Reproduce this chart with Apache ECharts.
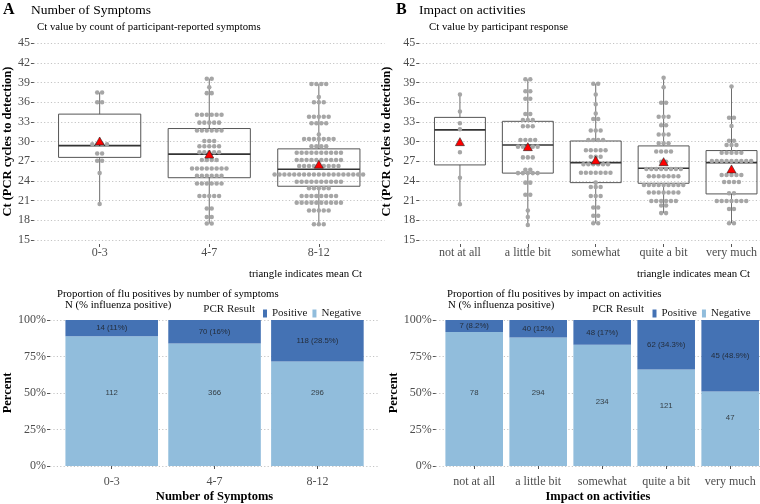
<!DOCTYPE html>
<html><head><meta charset="utf-8">
<script src="https://cdn.jsdelivr.net/npm/echarts@6/dist/echarts.min.js"></script>
<style>html,body{margin:0;padding:0;background:#fff}#c{width:760px;height:504px}</style>
</head><body><div id="c"></div>
<script>
// ---------- DATA ----------
var catsA = ['0-3', '4-7', '8-12'];
var catsB = ['not at all', 'a little bit', 'somewhat', 'quite a bit', 'very much'];
var yTicksCt = [15, 18, 21, 24, 27, 30, 33, 36, 39, 42, 45];

// box stats [min, q1, median, q3, max]
var boxA = [[20.5, 27.6, 29.4, 34.2, 37.5], [17.5, 24.5, 28.1, 32.0, 39.6], [17.4, 23.2, 25.8, 28.9, 38.8]];
var meanA = [30.1, 28.1, 26.55];
var boxB = [[20.45, 26.45, 31.8, 33.7, 37.2], [17.3, 25.2, 29.5, 33.1, 39.5], [17.56, 23.75, 26.8, 30.1, 38.84],
            [19.1, 23.65, 25.95, 29.35, 39.76], [17.56, 22.03, 26.8, 28.64, 38.4]];
var meanB = [30.0, 29.24, 27.2, 26.95, 25.84];

// dot bins [Ct, count]
var dots03 = [[37.5,2],[36.0,2],[29.6,4],[28.2,2],[27.1,2],[25.2,1],[20.5,1]];
var dots47 = [[39.6,2],[38.3,1],[37.4,2],[34.1,6],[32.9,5],[31.7,6],[30.1,3],[29.3,5],[28.4,5],[27.2,4],[25.9,8],[24.8,6],[23.6,6],[21.7,5],[19.8,2],[18.5,2],[17.5,2]];
var dots812 = [[38.8,4],[36.8,1],[36.0,3],[33.8,5],[32.8,4],[31.1,1],[30.4,7],[29.3,4],[28.3,10],[27.2,10],[26.3,9],[25.0,19],[23.9,10],[22.9,5],[21.7,8],[20.7,10],[19.5,5],[17.4,3]];
var dotsNot = [[37.2,1],[34.6,1],[32.8,1],[31.9,1],[28.4,1],[24.5,1],[20.45,1]];
var dotsLittle = [[39.5,2],[37.7,2],[36.55,2],[34.2,2],[33.3,3],[32.35,3],[30.26,4],[29.24,5],[27.6,3],[25.7,2],[25.2,5],[23.75,2],[21.9,2],[19.5,1],[18.5,1],[17.3,1]];
var dotsSome = [[38.84,2],[37.2,1],[35.7,1],[34.3,1],[33.46,2],[31.7,3],[30.26,4],[28.7,5],[27.7,3],[26.55,6],[25.27,7],[23.75,1],[23.1,3],[21.7,3],[19.94,2],[18.7,2],[17.56,2]];
var dotsQuite = [[39.76,1],[38.3,1],[35.95,2],[33.8,3],[32.5,2],[31.1,3],[29.76,3],[28.5,4],[26.95,2],[25.84,8],[24.73,7],[23.4,9],[22.23,7],[20.96,6],[20.25,2],[19.1,2]];
var dotsVery = [[38.4,1],[33.66,2],[32.4,1],[30.15,2],[29.5,3],[28.32,5],[27.06,9],[24.9,5],[23.86,4],[22.13,2],[20.96,7],[19.74,2],[17.56,2]];

// bottom: counts
var posA = [14, 70, 118];
var negA = [112, 366, 296];
var posLabelA = ['14 (11%)', '70 (16%)', '118 (28.5%)'];
var negLabelAtA = [50, 50, 50];
var posB = [7, 40, 48, 62, 45];
var negB = [78, 294, 234, 121, 47];
var posLabelB = ['7 (8.2%)', '40 (12%)', '48 (17%)', '62 (34.3%)', '45 (48.9%)'];
var negLabelAtB = [50, 50, 43.6, 41.3, 33];
var pctTicks = [0, 25, 50, 75, 100];

// ---------- STYLE ----------
var SERIF = "'Liberation Serif','DejaVu Serif',serif";
var SANS = "'Liberation Sans','DejaVu Sans',sans-serif";
var POS = '#4472b4', NEG = '#91bddc';
var DOT = '#a6a6a6';
var BINW = 0.75;

function idxs(n){ var a=[]; for (var i=1;i<=n;i++) a.push(i); return a; }

function boxRender(params, api){
  var x = api.value(0), mn = api.value(1), q1 = api.value(2), md = api.value(3), q3 = api.value(4), mx = api.value(5);
  var hw = 0.375;
  var pTL = api.coord([x - hw, q3]), pBR = api.coord([x + hw, q1]);
  var pMin = api.coord([x, mn]), pMax = api.coord([x, mx]), pMd = api.coord([x, md]);
  return {type:'group', children:[
    {type:'line', shape:{x1:pMax[0], y1:pMax[1], x2:pMax[0], y2:pTL[1]}, style:{stroke:'#6e6e6e', lineWidth:1}},
    {type:'line', shape:{x1:pMin[0], y1:pBR[1], x2:pMin[0], y2:pMin[1]}, style:{stroke:'#6e6e6e', lineWidth:1}},
    {type:'rect', shape:{x:pTL[0], y:pTL[1], width:pBR[0]-pTL[0], height:pBR[1]-pTL[1]}, style:{fill:'none', stroke:'#555', lineWidth:1}},
    {type:'line', shape:{x1:pTL[0], y1:pMd[1], x2:pBR[0], y2:pMd[1]}, style:{stroke:'#333', lineWidth:1.6}}
  ]};
}
function dotRender(params, api){
  var x = api.value(0), y = api.value(1), n = api.value(2);
  var c = api.coord([x, y]);
  var d = api.size([0, BINW])[1];
  var ch = [];
  for (var i = 0; i < n; i++) {
    ch.push({type:'circle', shape:{cx:c[0] + (i - (n - 1) / 2) * d, cy:c[1], r:d * 0.46}, style:{fill:DOT}});
  }
  return {type:'group', children:ch};
}
function barRender(params, api){
  var x = api.value(0), y0 = api.value(1), y1 = api.value(2);
  var hw = 0.45;
  var a = api.coord([x - hw, y1]), b = api.coord([x + hw, y0]);
  return {type:'rect', shape:{x:a[0], y:a[1], width:b[0]-a[0], height:b[1]-a[1]}, style:{fill:api.visual('color')}};
}

function boxData(stats){ return stats.map(function(s, i){ return [i + 1].concat(s); }); }
function dotData(groups){ var out=[]; groups.forEach(function(g, i){ g.forEach(function(b){ out.push([i + 1, b[0], b[1]]); }); }); return out; }
function meanData(m){ return m.map(function(v, i){ return [i + 1, v]; }); }

var labelStyle = {color:'#4d4d4d', fontFamily:SERIF, fontSize:12};
var gridLine = {show:true, lineStyle:{type:[1.2, 2.2], color:'#c4c4c4', width:1}};

function xAxisCat(gi, cats, xmax, offset, margin, name, nameGap){
  var vals = idxs(cats.length);
  var ax = {gridIndex:gi, type:'value', min:0.4, max:xmax, offset:offset,
    splitLine:{show:false}, axisLine:{show:false},
    axisTick:{show:true, length:3, customValues:vals, lineStyle:{color:'#555'}},
    axisLabel:Object.assign({customValues:vals, margin:margin, formatter:function(v){ return cats[Math.round(v) - 1]; }}, labelStyle)};
  if (name) { ax.name = name; ax.nameLocation = 'middle'; ax.nameGap = nameGap;
    ax.nameTextStyle = {fontFamily:SERIF, fontWeight:'bold', fontSize:12.5, color:'#000'}; }
  return ax;
}
function yAxisCt(gi, gap){
  return {gridIndex:gi, type:'value', min:yTicksCt[0], max:yTicksCt[yTicksCt.length-1], interval:3,
    axisLine:{show:false}, axisTick:{show:true, length:3, lineStyle:{color:'#555'}},
    axisLabel:Object.assign({margin:4}, labelStyle), splitLine:gridLine,
    name:'Ct (PCR cycles to detection)', nameLocation:'middle', nameGap:gap,
    nameTextStyle:{fontFamily:SERIF, fontWeight:'bold', fontSize:12.5, color:'#000'}};
}
function yAxisPct(gi, gap){
  return {gridIndex:gi, type:'value', min:pctTicks[0], max:pctTicks[pctTicks.length-1], interval:25,
    axisLine:{show:false}, axisTick:{show:true, length:3, lineStyle:{color:'#555'}},
    axisLabel:Object.assign({margin:4, formatter:'{value}%'}, labelStyle), splitLine:gridLine,
    name:'Percent', nameLocation:'middle', nameGap:gap,
    nameTextStyle:{fontFamily:SERIF, fontWeight:'bold', fontSize:12.5, color:'#000'}};
}

function barSeries(gi, pos, neg, posLab, negAt){
  var negPct = neg.map(function(n, i){ return n / (n + pos[i]) * 100; });
  var lab = {show:true, position:'inside', fontFamily:SANS, fontSize:7.8, color:'#1a1a1a'};
  return [
    {type:'custom', name:'Negative', xAxisIndex:gi, yAxisIndex:gi, renderItem:barRender, silent:true,
      itemStyle:{color:NEG}, data:negPct.map(function(p, i){ return [i + 1, 0, p]; }), z:2},
    {type:'custom', name:'Positive', xAxisIndex:gi, yAxisIndex:gi, renderItem:barRender, silent:true,
      itemStyle:{color:POS}, data:negPct.map(function(p, i){ return [i + 1, p, 100]; }), z:2},
    {type:'scatter', name:'posLab' + gi, xAxisIndex:gi, yAxisIndex:gi, symbolSize:0, silent:true,
      data:negPct.map(function(p, i){ return [i + 1, (p + 100) / 2]; }),
      label:Object.assign({formatter:function(p){ return posLab[p.dataIndex]; }}, lab), z:5},
    {type:'scatter', name:'negLab' + gi, xAxisIndex:gi, yAxisIndex:gi, symbolSize:0, silent:true,
      data:negAt.map(function(v, i){ return [i + 1, v]; }),
      label:Object.assign({formatter:function(p){ return String(neg[p.dataIndex]); }}, lab), z:5}
  ];
}

function txt(x, y, text, font, align, color){
  return {type:'text', style:{x:x, y:y, text:text, font:font, textAlign:align || 'left', textVerticalAlign:'middle', fill:color || '#000'}};
}

var legendBase = {data:['Positive','Negative'], top:303, itemWidth:4, itemHeight:8, itemGap:5, icon:'rect', selectedMode:false,
  textStyle:{fontFamily:SERIF, fontSize:11, color:'#1a1a1a'}};

var option = {
  animation:false,
  backgroundColor:'#fff',
  grid:[
    {left:31, top:43.3, width:353.6, height:196.7},
    {left:419.2, top:43.3, width:340.8, height:196.7},
    {left:46.3, top:320, width:332.8, height:147.7},
    {left:435.8, top:320, width:324.2, height:147.7}
  ],
  xAxis:[
    xAxisCat(0, catsA, 3.6, 4, 3),
    xAxisCat(1, catsB, 5.412, 4, 3),
    xAxisCat(2, catsA, 3.6, 7, 3, 'Number of Symptoms', 17),
    xAxisCat(3, catsB, 5.466, 7, 3, 'Impact on activities', 17)
  ],
  yAxis:[ yAxisCt(0, 18), yAxisCt(1, 26), yAxisPct(2, 36), yAxisPct(3, 36) ],
  legend:[
    Object.assign({left:258}, legendBase),
    Object.assign({left:647.5}, legendBase)
  ],
  graphic:[
    txt(3, 10, 'A', 'bold 16px ' + SERIF),
    txt(31, 10, 'Number of Symptoms', '13.5px ' + SERIF),
    txt(37, 27, 'Ct value by count of participant-reported symptoms', '10.8px ' + SERIF),
    txt(396, 10, 'B', 'bold 16px ' + SERIF),
    txt(419, 10, 'Impact on activities', '13.5px ' + SERIF),
    txt(429, 27, 'Ct value by participant response', '10.8px ' + SERIF),
    txt(362, 274, 'triangle indicates mean Ct', '10.8px ' + SERIF, 'right'),
    txt(750, 274, 'triangle indicates mean Ct', '10.8px ' + SERIF, 'right'),
    txt(57, 294, 'Proportion of flu positives by number of symptoms', '10.8px ' + SERIF),
    txt(65, 305.5, 'N (% influenza positive)', '10.8px ' + SERIF),
    txt(447, 294, 'Proportion of flu positives by impact on activities', '10.8px ' + SERIF),
    txt(448, 305.5, 'N (% influenza positive)', '10.8px ' + SERIF),
    txt(255, 309, 'PCR Result', '11px ' + SERIF, 'right', '#1a1a1a'),
    txt(644, 309, 'PCR Result', '11px ' + SERIF, 'right', '#1a1a1a')
  ],
  series:[
    {type:'custom', xAxisIndex:0, yAxisIndex:0, renderItem:boxRender, data:boxData(boxA), z:2, silent:true},
    {type:'custom', xAxisIndex:0, yAxisIndex:0, renderItem:dotRender, data:dotData([dots03, dots47, dots812]), z:3, silent:true},
    {type:'scatter', xAxisIndex:0, yAxisIndex:0, data:meanData(meanA), symbol:'triangle', symbolSize:[9, 8],
      itemStyle:{color:'#ff0000', borderColor:'#222', borderWidth:0.6, opacity:1}, z:4, silent:true},
    {type:'custom', xAxisIndex:1, yAxisIndex:1, renderItem:boxRender, data:boxData(boxB), z:2, silent:true},
    {type:'custom', xAxisIndex:1, yAxisIndex:1, renderItem:dotRender, data:dotData([dotsNot, dotsLittle, dotsSome, dotsQuite, dotsVery]), z:3, silent:true},
    {type:'scatter', xAxisIndex:1, yAxisIndex:1, data:meanData(meanB), symbol:'triangle', symbolSize:[9, 8],
      itemStyle:{color:'#ff0000', borderColor:'#222', borderWidth:0.6, opacity:1}, z:4, silent:true}
  ].concat(barSeries(2, posA, negA, posLabelA, negLabelAtA))
   .concat(barSeries(3, posB, negB, posLabelB, negLabelAtB))
};

var chart = echarts.init(document.getElementById('c'), null, {renderer:'canvas'});
chart.setOption(option);
</script>
</body></html>
